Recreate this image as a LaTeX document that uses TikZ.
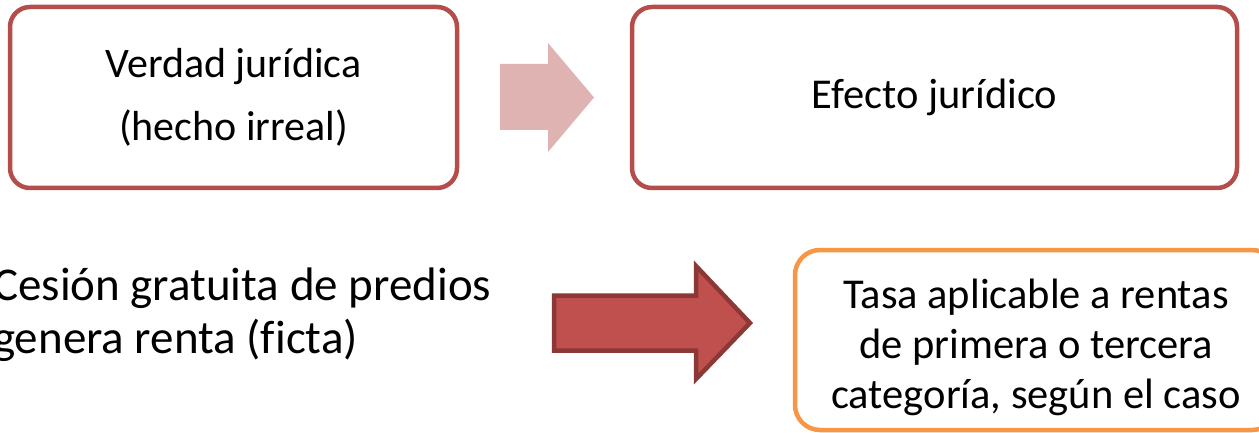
\documentclass[tikz,border=0pt]{standalone}
\usepackage{fontspec}
\setmainfont{Carlito}[Ligatures=NoCommon]
\usepackage{xcolor}
\definecolor{marco}{HTML}{B54E4B}
\definecolor{flechaclara}{HTML}{DFB3B2}
\definecolor{flecharoja}{HTML}{C0504D}
\definecolor{bordeflecha}{HTML}{8C3836}
\definecolor{naranja}{HTML}{F79646}

\begin{document}
\begin{tikzpicture}[line cap=round,x=1pt,y=-1pt,
  caja/.style={draw=marco,line width=4.5pt,rounded corners=20pt,align=center,minimum height=181pt},
  cajanar/.style={draw=naranja,line width=4.5pt,rounded corners=25pt,align=center,minimum height=180pt}]
\clip (0,0) rectangle (1259,433);
\node[caja,minimum width=447pt,font=\fontsize{42}{63}\selectfont] (verdad) at (233.5,97.5) {Verdad jurídica\\(hecho irreal)};
\node[caja,minimum width=605pt,font=\fontsize{42.5}{63}\selectfont] (efecto) at (934.5,97.5) {Efecto jurídico};
\fill[flechaclara] (500,64)-- (548,64)-- (548,43)-- (594,97.5)-- (548,152)-- (548,130)-- (500,130)-- cycle;
\node[anchor=base west,align=left,inner sep=0pt,font=\fontsize{47}{53}\selectfont] (cesion) at (-7,353) {Cesión gratuita de predios\\genera renta (ficta)};
\draw[draw=bordeflecha,fill=flecharoja,line width=4.5pt,line join=miter] (554,295.5)-- (696,295.5)-- (696,266)-- (750,323)-- (696,379)-- (696,350.5)-- (554,350.5)-- cycle;
\node[cajanar,minimum width=482pt] (tasa) at (1036,340) {};
\node[align=center,font=\fontsize{42.5}{50}\selectfont] (tasatexto) at (1036,347) {Tasa aplicable a rentas\\de primera o tercera\\categoría, según el caso};
\end{tikzpicture}
\end{document}
